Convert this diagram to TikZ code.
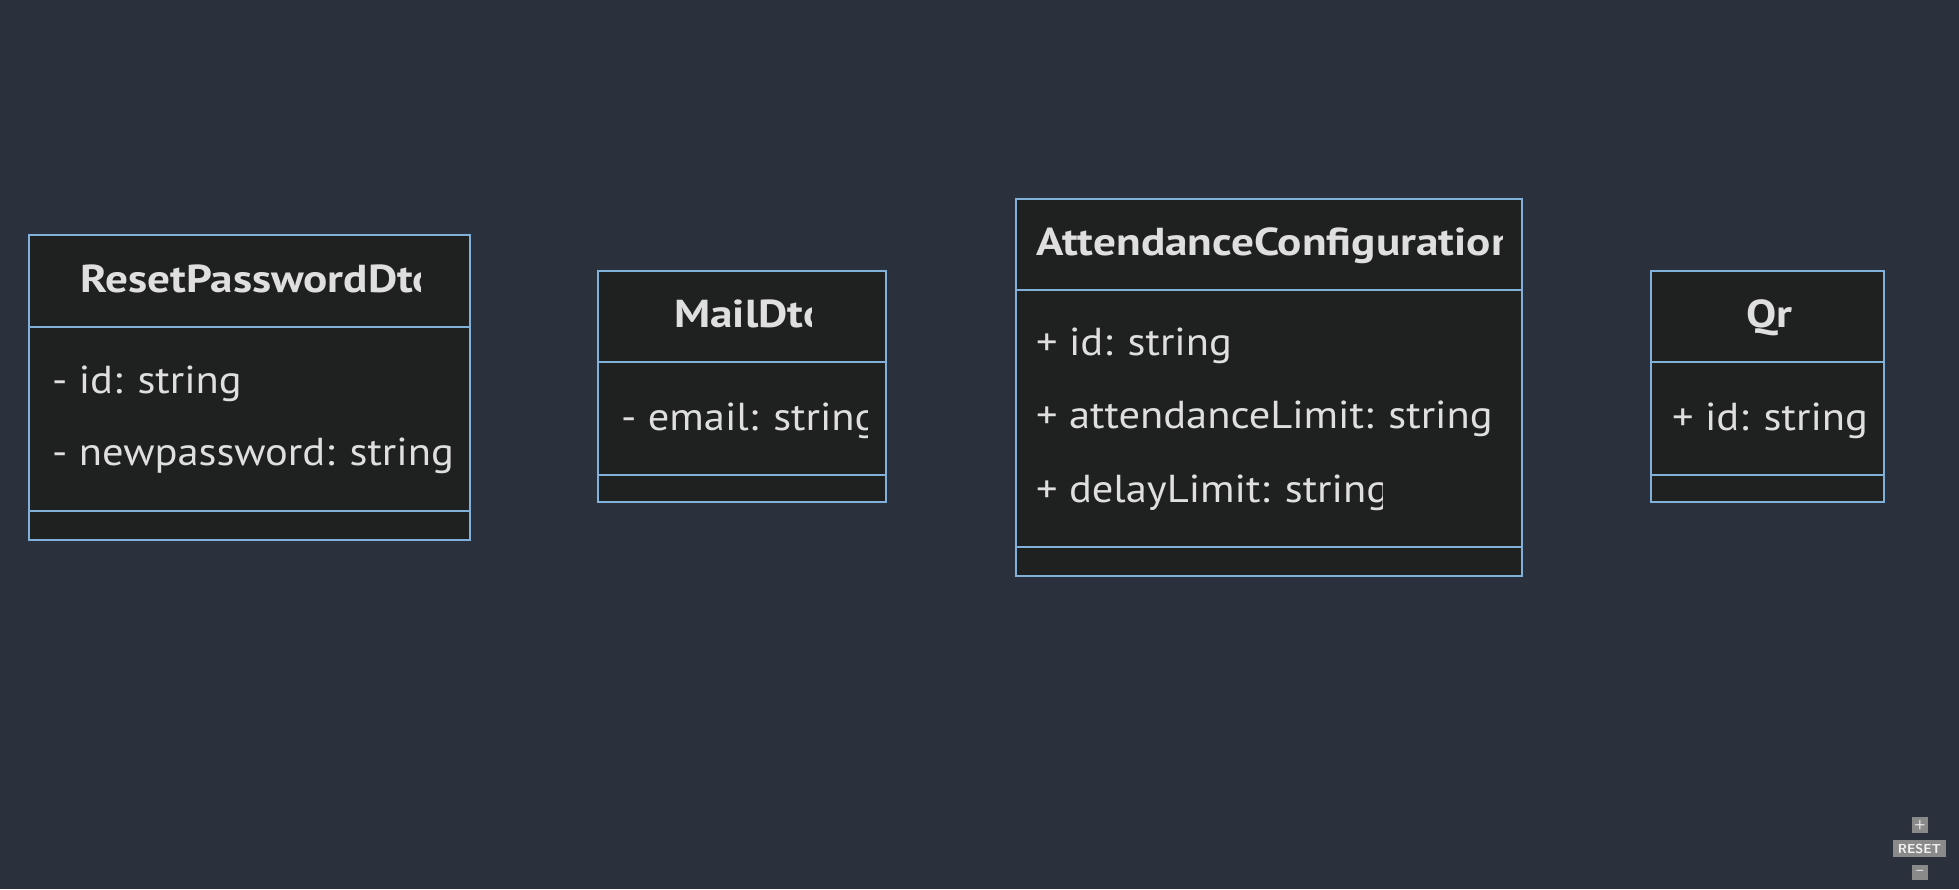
\documentclass[tikz,border=0pt]{standalone}
\usepackage{fontspec}
\setmainfont{PT Sans}
\newfontfamily\memberfont[FakeStretch=1.09]{PT Sans}
\newfontfamily\namefont[FakeStretch=1.16]{PT Sans}
\usetikzlibrary{positioning}
\definecolor{bgdark}{HTML}{2A303C}
\definecolor{classfill}{HTML}{1F2020}
\definecolor{classline}{HTML}{81B1DB}
\definecolor{classtext}{HTML}{E0DFDF}
\definecolor{btnfill}{HTML}{8A8A8A}

\begin{document}
\begin{tikzpicture}[x=1pt,y=-1pt,
  compart/.style={draw=classline,fill=classfill,line width=2pt,inner sep=0pt,outer sep=0pt},
  classname/.style={text=classtext,font=\namefont\fontsize{39}{47}\selectfont\bfseries,anchor=base west,inner sep=0pt},
  member/.style={text=classtext,font=\memberfont\fontsize{39}{47}\selectfont,anchor=base west,inner sep=0pt},
  zoombtn/.style={fill=btnfill,text=white!90!gray,inner sep=0pt,font=\sffamily\bfseries\fontsize{13}{13}\selectfont}]
\useasboundingbox (0,0) rectangle (1959,889);
\fill[bgdark] (0,0) rectangle (1959,889);

% ResetPasswordDto
\node[compart,anchor=north west,minimum width=441pt,minimum height=92pt] (rpHead) at (29,235) {};
\node[compart,minimum width=441pt,minimum height=184pt,below=0pt of rpHead] (rpAttr) {};
\node[compart,minimum width=441pt,minimum height=29pt,below=0pt of rpAttr] (rpOps) {};
\begin{scope}
\clip (29,235) rectangle (420,327);
\node[classname] (rpName) at (80,292) {ResetPasswordDto};
\end{scope}
\node[member] (rpId) at (52,393) {- id: string};
\node[member] (rpPass) at (52,465) {- newpassword: string};

% MailDto
\node[compart,anchor=north west,minimum width=288pt,minimum height=91pt] (mailHead) at (598,271) {};
\node[compart,minimum width=288pt,minimum height=113pt,below=0pt of mailHead] (mailAttr) {};
\node[compart,minimum width=288pt,minimum height=27pt,below=0pt of mailAttr] (mailOps) {};
\begin{scope}
\clip (598,271) rectangle (811,362);
\node[classname] (mailName) at (674,327) {MailDto};
\end{scope}
\begin{scope}
\clip (598,362) rectangle (867,475);
\node[member] (mailEmail) at (621,430) {- email: string};
\end{scope}

% AttendanceConfiguration
\node[compart,anchor=north west,minimum width=506pt,minimum height=91pt] (acHead) at (1016,199) {};
\node[compart,minimum width=506pt,minimum height=257pt,below=0pt of acHead] (acAttr) {};
\node[compart,minimum width=506pt,minimum height=29pt,below=0pt of acAttr] (acOps) {};
\begin{scope}
\clip (1016,199) rectangle (1502,290);
\node[classname] (acName) at (1036,255) {AttendanceConfiguration};
\end{scope}
\begin{scope}
\clip (1016,290) rectangle (1231,547);
\node[member] (acId) at (1036,355) {+ id: string};
\end{scope}
\begin{scope}
\clip (1016,290) rectangle (1497,547);
\node[member] (acLimit) at (1036,428) {+ attendanceLimit: string};
\end{scope}
\begin{scope}
\clip (1016,290) rectangle (1382,547);
\node[member] (acDelay) at (1036,502) {+ delayLimit: string};
\end{scope}

% Qr
\node[compart,anchor=north west,minimum width=233pt,minimum height=91pt] (qrHead) at (1651,271) {};
\node[compart,minimum width=233pt,minimum height=113pt,below=0pt of qrHead] (qrAttr) {};
\node[compart,minimum width=233pt,minimum height=27pt,below=0pt of qrAttr] (qrOps) {};
\node[classname] (qrName) at (1746,327) {Qr};
\begin{scope}
\clip (1651,362) rectangle (1865,475);
\node[member] (qrId) at (1672,430) {+ id: string};
\end{scope}

% zoom controls
\node[zoombtn,minimum width=16pt,minimum height=16pt] (zoomIn) at (1920,825) {+};
\node[zoombtn,minimum width=53pt,minimum height=17pt] (zoomReset) at (1919.5,848.5) {RESET};
\node[zoombtn,minimum width=16pt,minimum height=15pt] (zoomOut) at (1920,872.5) {--};
\end{tikzpicture}
\end{document}
